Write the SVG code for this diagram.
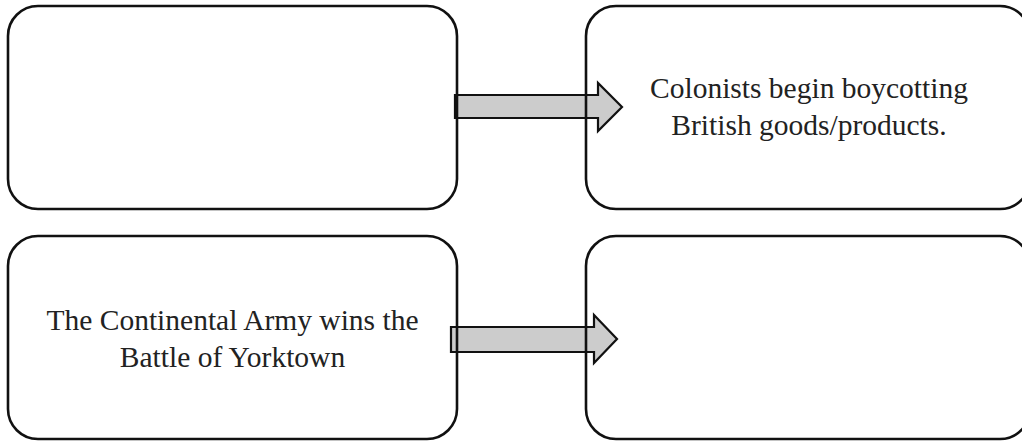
<svg xmlns="http://www.w3.org/2000/svg" width="1022" height="442" viewBox="0 0 1022 442">
<style>
.box{fill:none;stroke:#111;stroke-width:2.6}
.arrow{fill:#cccccc;stroke:#111;stroke-width:2.2;stroke-linejoin:miter}
.lbl{font-family:"Liberation Serif","Times New Roman",serif;font-size:29.5px;fill:#222;text-anchor:middle}
</style>
<rect width="1022" height="442" fill="#ffffff"/>
<g id="connectors">
<polygon class="arrow" points="455,95 598,95 598,83 622,107 598,131 598,118 455,118"/>
<polygon class="arrow" points="451,327 594,327 594,315 617,339 594,363 594,352 451,352"/>
</g>
<g id="node-tl">
<rect class="box" x="8" y="6" width="449" height="203" rx="30" ry="30"/>
</g>
<g id="node-tr">
<rect class="box" x="586" y="6" width="444" height="203" rx="30" ry="30"/>
<text class="lbl" x="809" y="98">Colonists begin boycotting</text>
<text class="lbl" x="809" y="135">British goods/products.</text>
</g>
<g id="node-bl">
<rect class="box" x="8" y="236" width="449" height="203" rx="30" ry="30"/>
<text class="lbl" x="232.5" y="330">The Continental Army wins the</text>
<text class="lbl" x="232.5" y="367">Battle of Yorktown</text>
</g>
<g id="node-br">
<rect class="box" x="586" y="236" width="444" height="203" rx="30" ry="30"/>
</g>
</svg>
